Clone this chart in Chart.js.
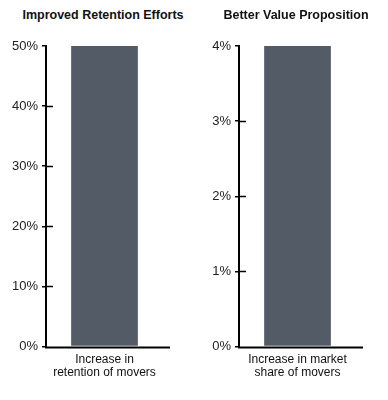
<!DOCTYPE html>
<html>
<head>
<meta charset="utf-8">
<script src="https://cdn.jsdelivr.net/npm/chart.js"></script>
<style>
  body { margin: 0; background: #fff; font-family: 'Liberation Sans', Arial, sans-serif; }
  #wrap { position: relative; width: 388px; height: 400px; }
  .panel { position: absolute; top: 0; width: 194px; height: 400px; }
  .panel h2 { position: absolute; top: 8px; left: 3px; width: 200px; margin: 0; text-align: center;
    font-size: 12.5px; font-weight: bold; color: #111; white-space: nowrap; }
  .panel canvas { position: absolute; top: 0; left: 0; }
</style>
</head>
<body>
<div id="wrap">
  <div class="panel" style="left:0"><h2>Improved Retention Efforts</h2><canvas id="c1" width="194" height="400"></canvas></div>
  <div class="panel" style="left:193px"><h2>Better Value Proposition</h2><canvas id="c2" width="194" height="400"></canvas></div>
</div>
<script>
// data
const retentionLabels = [['Increase in', 'retention of movers']];
const retentionValues = [50];
const retentionTicks = [0, 10, 20, 30, 40, 50];

const shareLabels = [['Increase in market', 'share of movers']];
const shareValues = [4];
const shareTicks = [0, 1, 2, 3, 4];

const barColor = '#535b67';

// small ticks that poke into the plot area, and a longer x axis line
const innerTicks = {
  id: 'innerTicks',
  afterDraw(chart) {
    const { ctx, chartArea, scales } = chart;
    const y = scales.y;
    ctx.save();
    ctx.strokeStyle = '#000';
    ctx.lineWidth = 1.5;
    y.ticks.forEach(t => {
      if (t.value === y.min || t.value === y.max) return;
      const py = Math.round(y.getPixelForValue(t.value)) + 0.5;
      ctx.beginPath();
      ctx.moveTo(chartArea.left, py);
      ctx.lineTo(chartArea.left + 7, py);
      ctx.stroke();
    });
    ctx.lineWidth = 2;
    ctx.beginPath();
    ctx.moveTo(chartArea.left - 1, chartArea.bottom + 1);
    ctx.lineTo(chartArea.right + 7, chartArea.bottom + 1);
    ctx.stroke();
    ctx.restore();
  }
};

function makeChart(id, labels, values, tickVals) {
  const maxV = tickVals[tickVals.length - 1];
  new Chart(document.getElementById(id), {
    type: 'bar',
    data: {
      labels: labels,
      datasets: [{ data: values, backgroundColor: barColor, barPercentage: 0.57, categoryPercentage: 1 }]
    },
    options: {
      responsive: false,
      animation: false,
      layout: { padding: { top: 46, right: 31, bottom: 15, left: 0 } },
      plugins: { legend: { display: false }, tooltip: { enabled: false } },
      scales: {
        x: {
          grid: { display: false, drawTicks: false },
          border: { display: false },
          ticks: { color: '#111', padding: 6, font: { family: 'Liberation Sans', size: 12, lineHeight: 1.1 } }
        },
        y: {
          min: 0,
          max: maxV,
          afterFit: s => { s.width = 46; },
          afterBuildTicks: s => { s.ticks = tickVals.map(v => ({ value: v })); },
          grid: { drawOnChartArea: false, tickLength: 4, color: '#000', lineWidth: 1.5 },
          border: { display: true, color: '#000', width: 2 },
          ticks: { color: '#222', padding: 4, font: { family: 'Liberation Sans', size: 13 }, callback: v => v + '%' }
        }
      }
    },
    plugins: [innerTicks]
  });
}

makeChart('c1', retentionLabels, retentionValues, retentionTicks);
makeChart('c2', shareLabels, shareValues, shareTicks);
</script>
</body>
</html>
